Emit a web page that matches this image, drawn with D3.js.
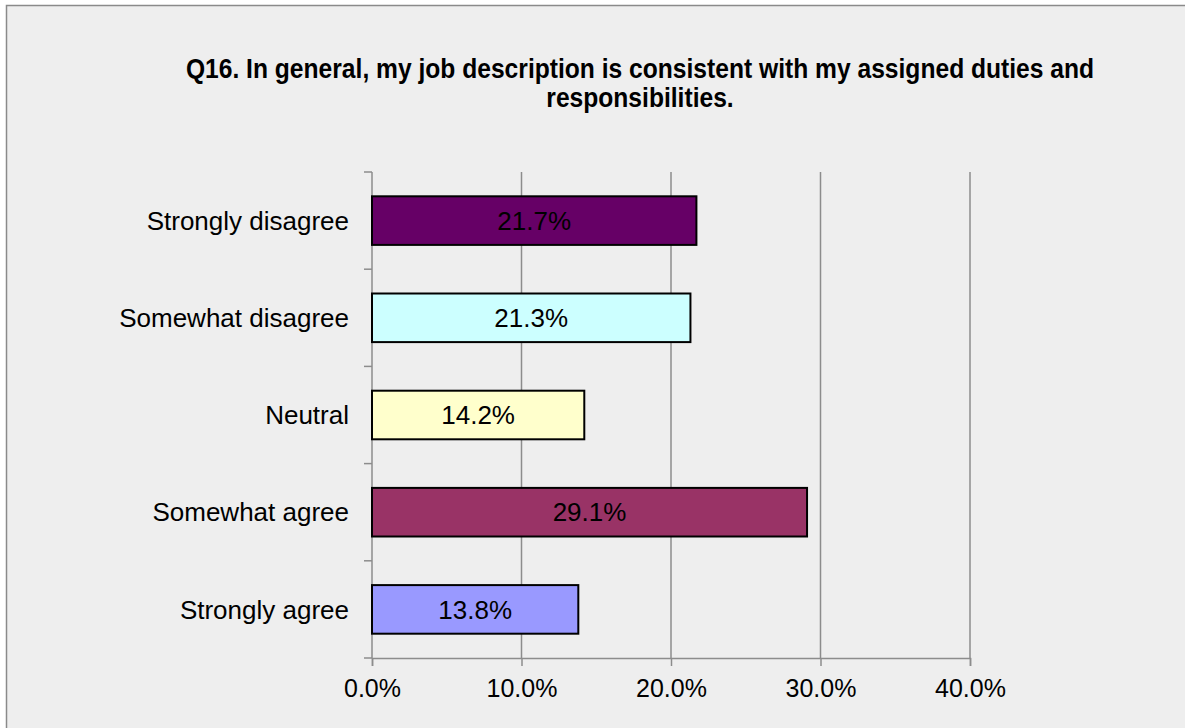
<!DOCTYPE html>
<html>
<head>
<meta charset="utf-8">
<script src="https://cdn.jsdelivr.net/npm/d3@7"></script>
<style>
  body { margin: 0; background: #fff; }
  svg { display: block; font-family: "Liberation Sans", Arial, sans-serif; }
</style>
</head>
<body>
<div id="chart"></div>
<script>
const categories = ["Strongly disagree", "Somewhat disagree", "Neutral", "Somewhat agree", "Strongly agree"]
const values = [21.7, 21.3, 14.2, 29.1, 13.8]
const barColors = ["#660066", "#ccffff", "#ffffcc", "#993366", "#9999ff"]
const xTicks = [0, 10, 20, 30, 40]
const titleLines = ["Q16. In general, my job description is consistent with my assigned duties and", "responsibilities."]

const width = 1185, height = 728
const plot = { left: 372, right: 970, top: 172, bottom: 658 }

const svg = d3.select("#chart")
    .append("svg")
    .attr("width", width)
    .attr("height", height)

// chart area background and frame
svg.append("rect")
    .attr("x", 6.5).attr("y", 5.5)
    .attr("width", width).attr("height", height)
    .attr("fill", "#eeeeee")
    .attr("stroke", "#8a8a8a")
    .attr("stroke-width", 1.5)

const x = d3.scaleLinear().domain([0, 40]).range([plot.left, plot.right])
const y = d3.scaleBand().domain(categories).range([plot.top, plot.bottom]).paddingInner(0.5).paddingOuter(0.25)

// vertical gridlines
svg.append("g")
    .selectAll("line")
    .data(xTicks.slice(1))
    .join("line")
    .attr("x1", d => x(d)).attr("x2", d => x(d))
    .attr("y1", plot.top).attr("y2", plot.bottom)
    .attr("stroke", "#8c8c8c")
    .attr("stroke-width", 1.5)

// x axis
const xAxis = svg.append("g")
    .attr("transform", `translate(0,${plot.bottom})`)
    .call(d3.axisBottom(x).tickValues(xTicks).tickFormat(d => d.toFixed(1) + "%").tickSizeOuter(0).tickSize(8).tickPadding(13))
xAxis.select(".domain").attr("stroke", "#8c8c8c").attr("stroke-width", 1.5)
xAxis.selectAll(".tick line").attr("stroke", "#8c8c8c").attr("stroke-width", 1.5)
xAxis.selectAll("text").attr("font-size", 25).attr("fill", "#000")

// y axis with ticks between categories
const yTickPos = d3.range(categories.length + 1).map(i => plot.top + i * (plot.bottom - plot.top) / categories.length)
const yAxis = svg.append("g")
yAxis.append("line")
    .attr("x1", plot.left).attr("x2", plot.left)
    .attr("y1", plot.top).attr("y2", plot.bottom)
    .attr("stroke", "#8c8c8c").attr("stroke-width", 1.5)
yAxis.selectAll(".ytick")
    .data(yTickPos)
    .join("line")
    .attr("class", "ytick")
    .attr("x1", plot.left - 8).attr("x2", plot.left)
    .attr("y1", d => d).attr("y2", d => d)
    .attr("stroke", "#8c8c8c").attr("stroke-width", 1.5)
yAxis.selectAll("text")
    .data(categories)
    .join("text")
    .attr("x", 349)
    .attr("y", d => y(d) + y.bandwidth() / 2)
    .attr("dy", "0.35em")
    .attr("text-anchor", "end")
    .attr("font-size", 26)
    .text(d => d)

// bars
const data = categories.map((c, i) => ({ cat: c, value: values[i], color: barColors[i] }))
svg.append("g")
    .selectAll("rect")
    .data(data)
    .join("rect")
    .attr("x", x(0))
    .attr("y", d => y(d.cat))
    .attr("width", d => x(d.value) - x(0))
    .attr("height", y.bandwidth())
    .attr("fill", d => d.color)
    .attr("stroke", "#000")
    .attr("stroke-width", 2)

// value labels
svg.append("g")
    .selectAll("text")
    .data(data)
    .join("text")
    .attr("x", d => (x(0) + x(d.value)) / 2)
    .attr("y", d => y(d.cat) + y.bandwidth() / 2)
    .attr("dy", "0.35em")
    .attr("text-anchor", "middle")
    .attr("font-size", 26)
    .text(d => d.value.toFixed(1) + "%")

// title (original font is a bit taller/narrower, so squeeze horizontally)
svg.append("text")
    .attr("transform", "translate(640,0) scale(0.912,1)")
    .attr("text-anchor", "middle")
    .attr("font-size", 27)
    .attr("font-weight", "bold")
    .selectAll("tspan")
    .data(titleLines)
    .join("tspan")
    .attr("x", 0)
    .attr("y", (d, i) => 78 + i * 28.7)
    .text(d => d)
</script>
</body>
</html>
